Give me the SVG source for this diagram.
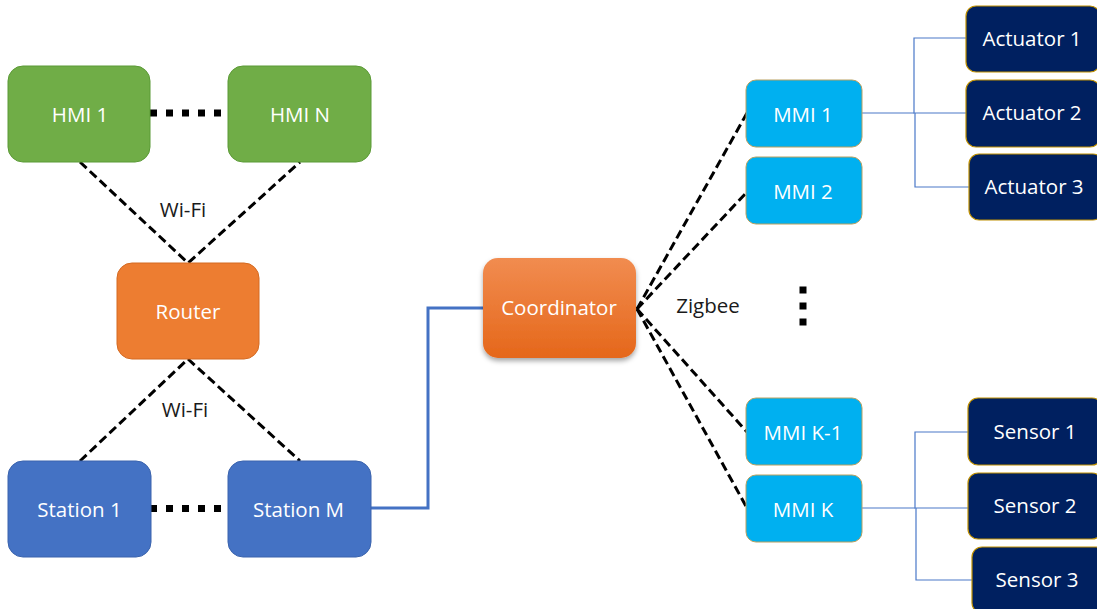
<svg xmlns="http://www.w3.org/2000/svg" width="1097" height="609" viewBox="0 0 1097 609">
<defs>
<linearGradient id="coordGrad" x1="0" y1="0" x2="0" y2="1">
<stop offset="0" stop-color="#f18c50"/>
<stop offset="1" stop-color="#e5671a"/>
</linearGradient>
<filter id="shadow" x="-20%" y="-20%" width="140%" height="150%">
<feDropShadow dx="0" dy="3" stdDeviation="2.5" flood-color="#000" flood-opacity="0.35"/>
</filter>
</defs>
<style>
text{font-family:"Open Sans","Liberation Sans",sans-serif;font-size:20.5px;text-anchor:middle}
.w{fill:#ffffff}
.k{fill:#1a1a1a}
.hmi{fill:#70ad47;stroke:#5b9a36;stroke-width:1}
.router{fill:#ed7d31;stroke:#d46a22;stroke-width:1}
.station{fill:#4472c4;stroke:#3a63ad;stroke-width:1}
.mmi{fill:#00b0f0;stroke:#b8a060;stroke-width:1}
.dev{fill:#002060;stroke:#bf9000;stroke-width:1.2}
.dash{fill:none;stroke:#000;stroke-width:3;stroke-dasharray:9 4.5}
.dots{fill:none;stroke:#000;stroke-width:7;stroke-dasharray:7 9}
.wire{fill:none;stroke:#4472c4;stroke-width:3}
.thin{fill:none;stroke:#4a78c8;stroke-width:1.2}
</style>
<rect width="1097" height="609" fill="#ffffff"/>
<g id="connectors">
<line class="dots" x1="150" y1="113" x2="228" y2="113"/>
<line class="dots" x1="150" y1="508.5" x2="228" y2="508.5"/>
<polyline class="dash" points="80,162 188,263 300,162"/>
<polyline class="dash" points="80,461 188,359 300,461"/>
<polyline class="wire" points="371,508 428,508 428,308 483,308"/>
<line class="dash" x1="637" y1="309" x2="747" y2="113"/>
<line class="dash" x1="637" y1="309" x2="747" y2="192"/>
<line class="dash" x1="637" y1="309" x2="747" y2="432"/>
<line class="dash" x1="637" y1="309" x2="747" y2="508"/>
<polyline class="thin" points="862,113 914,113"/>
<polyline class="thin" points="966,38 914,38 914,113 966,113"/>
<polyline class="thin" points="915,113 915,187 969,187"/>
<polyline class="thin" points="862,508 915,508"/>
<polyline class="thin" points="968,432 915,432 915,508 968,508"/>
<polyline class="thin" points="916,508 916,580 972,580"/>
<rect x="799.5" y="286.5" width="7" height="7" fill="#000"/>
<rect x="799.5" y="302.5" width="7" height="7" fill="#000"/>
<rect x="799.5" y="318.5" width="7" height="7" fill="#000"/>
</g>
<g id="label-wifi-top"><text class="k" x="183" y="217">Wi-Fi</text></g>
<g id="label-wifi-bottom"><text class="k" x="185" y="417">Wi-Fi</text></g>
<g id="label-zigbee"><text class="k" x="708" y="313">Zigbee</text></g>
<g id="hmi1"><rect class="hmi" x="8" y="66" width="142" height="96" rx="15"/><text class="w" x="80" y="122">HMI 1</text></g>
<g id="hmiN"><rect class="hmi" x="228" y="66" width="143" height="96" rx="15"/><text class="w" x="300" y="122">HMI N</text></g>
<g id="router"><rect class="router" x="117" y="263" width="142" height="96" rx="15"/><text class="w" x="188" y="318.5">Router</text></g>
<g id="station1"><rect class="station" x="8" y="461" width="143" height="96" rx="15"/><text class="w" x="79.5" y="516.5">Station 1</text></g>
<g id="stationM"><rect class="station" x="228" y="461" width="143" height="96" rx="15"/><text class="w" x="298.5" y="516.5">Station M</text></g>
<g id="coordinator"><rect x="483" y="258" width="153" height="100" rx="15" fill="url(#coordGrad)" filter="url(#shadow)"/><text class="w" x="559" y="315">Coordinator</text></g>
<g id="mmi1"><rect class="mmi" x="746" y="80" width="116" height="67" rx="10"/><text class="w" x="803" y="121.5">MMI 1</text></g>
<g id="mmi2"><rect class="mmi" x="746" y="157" width="116" height="67" rx="10"/><text class="w" x="803" y="198.5">MMI 2</text></g>
<g id="mmiK1"><rect class="mmi" x="746" y="398" width="116" height="67" rx="10"/><text class="w" x="803" y="439.5">MMI K-1</text></g>
<g id="mmiK"><rect class="mmi" x="746" y="475" width="116" height="67" rx="10"/><text class="w" x="803" y="516.5">MMI K</text></g>
<g id="actuator1"><rect class="dev" x="966" y="6" width="134" height="66" rx="10"/><text class="w" x="1032" y="46">Actuator 1</text></g>
<g id="actuator2"><rect class="dev" x="966" y="80" width="134" height="67" rx="10"/><text class="w" x="1032" y="120">Actuator 2</text></g>
<g id="actuator3"><rect class="dev" x="969" y="154" width="134" height="66" rx="10"/><text class="w" x="1034" y="194">Actuator 3</text></g>
<g id="sensor1"><rect class="dev" x="968" y="398" width="134" height="67" rx="10"/><text class="w" x="1035" y="439">Sensor 1</text></g>
<g id="sensor2"><rect class="dev" x="968" y="473" width="134" height="66" rx="10"/><text class="w" x="1035" y="513">Sensor 2</text></g>
<g id="sensor3"><rect class="dev" x="972" y="547" width="134" height="66" rx="10"/><text class="w" x="1037" y="587">Sensor 3</text></g>
</svg>
